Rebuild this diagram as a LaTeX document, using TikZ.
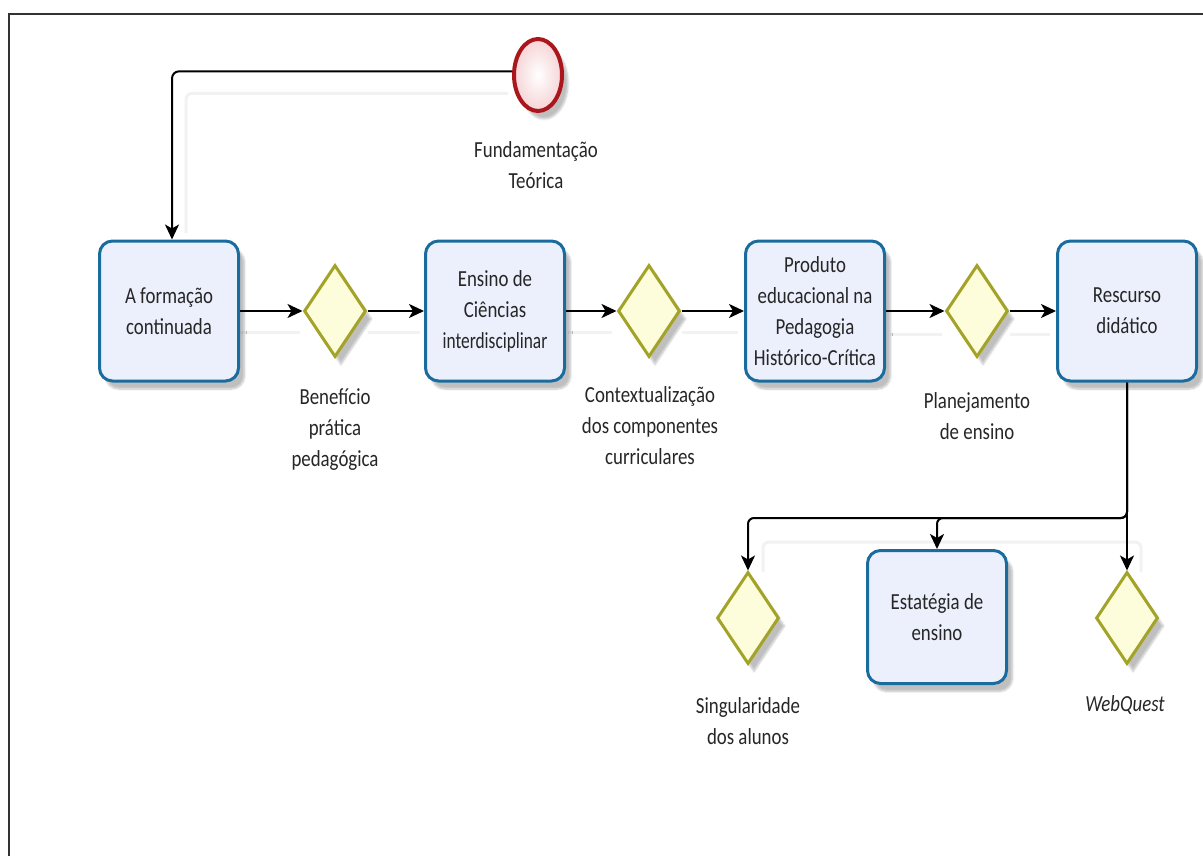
\documentclass[tikz,border=0pt]{standalone}
\usepackage{graphicx}
\usepackage{fontspec}
\setmainfont{Carlito}[FakeStretch=0.82]
\usetikzlibrary{shapes.geometric,arrows.meta,shadows.blur,backgrounds}
\definecolor{taskline}{RGB}{26,108,158}
\definecolor{taskfill}{RGB}{236,240,252}
\definecolor{gateline}{RGB}{163,163,40}
\definecolor{gatefill}{RGB}{253,253,220}
\definecolor{evline}{RGB}{170,22,28}
\definecolor{evfill}{RGB}{246,212,214}
\definecolor{framecol}{RGB}{50,50,50}

\begin{document}
\begin{tikzpicture}[x=1pt,y=-1pt,
  every node/.style={font=\fontsize{23}{31}\selectfont, align=center, inner sep=0pt, text=black!85},
  softshadow/.style={blur shadow={shadow xshift=6pt, shadow yshift=-8pt, shadow opacity=25, shadow blur steps=6}},
  task/.style={rectangle, rounded corners=13pt, draw=taskline, line width=3pt, fill=taskfill,
               minimum width=139pt, minimum height=140pt, softshadow},
  gate/.style={diamond, draw=gateline, line width=3pt, fill=gatefill,
               minimum width=62pt, minimum height=92pt, softshadow},
  startev/.style={ellipse, draw=evline, line width=4pt, shading=radial,
               inner color=white, outer color=evfill, minimum width=48pt, minimum height=72pt, softshadow},
  lbl/.style={align=center},
  flow/.style={draw=black, line width=2pt, -{Stealth[length=15pt,width=14pt,inset=4pt]}},
  ghost/.style={draw=black!5, line width=3pt}
]
\useasboundingbox (0,0) rectangle (1203,856);
\clip (0,0) rectangle (1203,856);

% outer frame
\draw[line width=2.2pt, draw=framecol] (9,880) -- (9,14) -- (1230,14);

% start event
\node[startev] (fund) at (538,75) {};
\node[lbl] (fundl) at (536,165) {Fundamentação\\Teórica};

% main row
\node[task] (t1) at (169,311) {A formação\\continuada};
\node[gate] (d1) at (335,311) {};
\node[task] (t2) at (495,311) {Ensino de\\Ciências\\\scalebox{0.92}[1]{interdisciplinar}};
\node[gate] (d2) at (649,311) {};
\node[task] (t3) at (815,311) {Produto\\educacional na\\Pedagogia\\Histórico-Crítica};
\node[gate] (d3) at (977,311) {};
\node[task] (t4) at (1127,311) {Rescurso\\didático};

\node[lbl] (l1) at (335,430) {Benefício\\prática\\pedagógica};
\node[lbl] (l2) at (650,426) {Contextualização\\dos componentes\\curriculares};
\node[lbl] (l3) at (977,416) {Planejamento\\de ensino};

% lower row
\node[gate] (d4) at (748,618) {};
\node[task, minimum height=133pt] (t5) at (937,617) {Estatégia de\\ensino};
\node[gate] (d5) at (1127,618) {};

\node[lbl] (l4) at (748,721) {Singularidade\\dos alunos};
\node[lbl] (l5) at (1125,705) {\itshape WebQuest};

\coordinate (bus) at (1127,518);

% faint reflections of the connectors
\begin{scope}[on background layer]
  \draw[ghost, rounded corners=6pt] (fund.172) ++(-4,22) -| (186,233);
  \draw[ghost] (240,332) -- (300,332);
  \draw[ghost] (368,332) -- (420,332);
  \draw[ghost] (568,332) -- (612,332);
  \draw[ghost] (682,332) -- (738,332);
  \draw[ghost] (890,334) -- (942,334);
  \draw[ghost] (1010,334) -- (1050,334);
  \draw[ghost, rounded corners=6pt] (763,572) |- (1141,542) -- (1141,572);
\end{scope}

% connectors
\draw[flow, rounded corners=7pt] (fund.172) -| ([xshift=3pt]t1.north);
\draw[flow] (t1.east) -- (d1.west);
\draw[flow] (d1.east) -- (t2.west);
\draw[flow] (t2.east) -- (d2.west);
\draw[flow] (d2.east) -- (t3.west);
\draw[flow] (t3.east) -- (d3.west);
\draw[flow] (d3.east) -- (t4.west);
\draw[flow] (t4.south) -- (d5.north);
\draw[flow, rounded corners=6pt] (t4.south) -- (bus) -| (t5.north);
\draw[flow, rounded corners=6pt] (t4.south) -- (bus) -| (d4.north);
\end{tikzpicture}
\end{document}
